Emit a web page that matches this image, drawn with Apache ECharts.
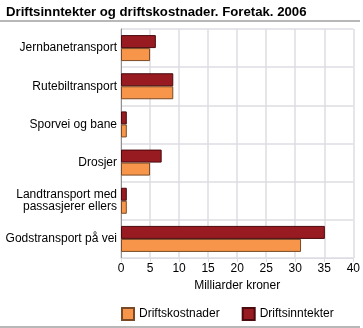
<!DOCTYPE html>
<html><head><meta charset="utf-8">
<script src="https://cdn.jsdelivr.net/npm/echarts@6/dist/echarts.min.js"></script>
<style>html,body{margin:0;padding:0;background:#fff}#c{width:363px;height:328px}</style>
</head><body><div id="c"></div>
<script>
const categories = ['Jernbanetransport','Rutebiltransport','Sporvei og bane','Drosjer','Landtransport med\npassasjerer ellers','Godstransport på vei'];
const driftsinntekter = [6.0, 9.0, 1.0, 7.0, 1.0, 35.1];
const driftskostnader = [5.0, 9.0, 1.0, 5.0, 1.0, 31.0];
const xTicks = [0, 40, 5];
const font = 'Liberation Sans, Arial, sans-serif';
const grid = '#dcdce3';
const chart = echarts.init(document.getElementById('c'));
chart.setOption({
  animation: false,
  textStyle: {fontFamily: font},
  title: {text: 'Driftsinntekter og driftskostnader. Foretak. 2006', left: 1, top: 1,
    textStyle: {fontFamily: font, fontSize: 13.2, fontWeight: 'bold', color: '#000'}},
  graphic: [
    {type: 'line', shape: {x1: 0, y1: 21, x2: 360, y2: 21}, style: {stroke: '#a0a0a0', lineWidth: 1.5}},
    {type: 'line', shape: {x1: 0, y1: 327, x2: 360, y2: 327}, style: {stroke: '#a0a0a0', lineWidth: 1.5}}
  ],
  legend: {data: ['Driftskostnader','Driftsinntekter'], left: 116, top: 302, itemWidth: 12, itemHeight: 12, itemGap: 22,
    icon: 'rect', textStyle: {fontFamily: font, fontSize: 12, color: '#000'}},
  grid: {left: 121, right: 8, top: 29, bottom: 70, containLabel: false},
  xAxis: {type: 'value', min: xTicks[0], max: xTicks[1], interval: xTicks[2],
    name: 'Milliarder kroner', nameLocation: 'middle', nameGap: 22,
    nameTextStyle: {fontFamily: font, fontSize: 12, color: '#000'},
    axisLine: {show: true, lineStyle: {color: grid}},
    axisTick: {show: true, length: 4, lineStyle: {color: grid}},
    axisLabel: {fontFamily: font, fontSize: 12, color: '#000', margin: 5},
    splitLine: {show: true, lineStyle: {color: grid, width: 1.5}}},
  yAxis: {type: 'category', data: categories, inverse: true,
    axisLine: {show: true, lineStyle: {color: '#909090'}},
    axisTick: {show: false},
    axisLabel: {fontFamily: font, fontSize: 12, color: '#000', margin: 4, lineHeight: 12},
    splitLine: {show: true, lineStyle: {color: grid, width: 1.5}}},
  series: [
    {name: 'Driftsinntekter', type: 'bar', data: driftsinntekter, barWidth: 13, barGap: '0%',
      itemStyle: {color: '#971b21', borderColor: '#4a0a0e', borderWidth: 1}},
    {name: 'Driftskostnader', type: 'bar', data: driftskostnader, barWidth: 13, barGap: '0%',
      itemStyle: {color: '#f7964a', borderColor: '#7a4a26', borderWidth: 1}}
  ]
});
</script></body></html>
